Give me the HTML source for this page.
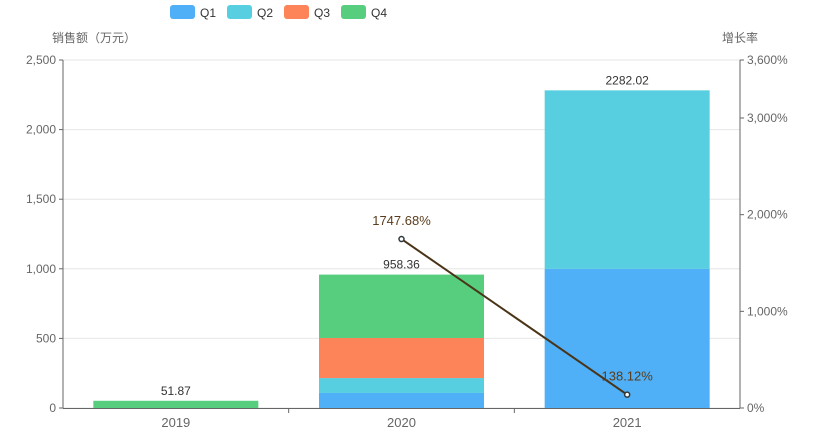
<!DOCTYPE html>
<html><head><meta charset="utf-8"><style>
body{margin:0;background:#fff;}
svg{display:block;font-family:"Liberation Sans","Noto Sans CJK SC",sans-serif;}
</style></head><body>
<svg id="c" width="820" height="438"></svg>
<script>
const categories=["2019","2020","2021"];
const seriesNames=["Q1","Q2","Q3","Q4"];
const colors=["#4fb0f7","#58cfe0","#fd8459","#56ce7e"];
const q1=[0,108,1000];
const q2=[0,107,1282.02];
const q3=[0,288,0];
const q4=[51.87,455.36,0];
const totals=["51.87","958.36","2282.02"];
const growth=[null,1747.68,138.12];
const leftTicks=[0,500,1000,1500,2000,2500];
const rightTicks=[0,1000,2000,3000,3600];
const NS="http://www.w3.org/2000/svg";
const svg=document.getElementById('c');
const X0=63,X1=740,Y0=408,Y1=60;
const cw=(X1-X0)/categories.length;
const yL=v=>Y0-(v/2500)*(Y0-Y1);
const yR=v=>Y0-(v/3600)*(Y0-Y1);
const xC=i=>X0+cw*(i+0.5);
function el(t,a,txt){const e=document.createElementNS(NS,t);for(const k in a)e.setAttribute(k,a[k]);if(txt!==undefined)e.textContent=txt;svg.appendChild(e);return e;}
// grid + left ticks
leftTicks.forEach(v=>{
 const g=el('line',{x1:X0,x2:X1,y1:yL(v),y2:yL(v),stroke:'#e6e6e6'});
 
 
 el('line',{x1:X0-4,x2:X0,y1:yL(v),y2:yL(v),stroke:'#666'});
 const t=el('text',{x:X0-7,y:yL(v)+4,'text-anchor':'end','font-size':12,fill:'#666'},v.toLocaleString('en-US'));
 
 
});
rightTicks.forEach(v=>{
 el('line',{x1:X1,x2:X1+4,y1:yR(v),y2:yR(v),stroke:'#666'});
 const t=el('text',{x:X1+7,y:yR(v)+4,'font-size':12,fill:'#666'},v.toLocaleString('en-US')+'%');
 
 
});
// bars
const series=[q1,q2,q3,q4];
const bw=165;
categories.forEach((c,i)=>{
 let acc=0;
 series.forEach((s,k)=>{
  const v=s[i]; if(!v) return;
  const r=el('rect',{x:xC(i)-bw/2,y:yL(acc+v),width:bw,height:yL(acc)-yL(acc+v),fill:colors[k]});
  
  
  acc+=v;
 });
 const t=el('text',{x:xC(i),y:yL(acc)-6,'text-anchor':'middle','font-size':12,fill:'#333'},totals[i]);
 
 
 const xl=el('text',{x:xC(i),y:Y0+19,'text-anchor':'middle','font-size':13,fill:'#666'},c);
 
 
 if(i>0) el('line',{x1:X0+cw*i,x2:X0+cw*i,y1:Y0,y2:Y0+5,stroke:'#666'});
});
// axes
el('line',{x1:X0,x2:X0,y1:Y1,y2:Y0,stroke:'#666'});
el('line',{x1:X1,x2:X1,y1:Y1,y2:Y0,stroke:'#666'});
el('line',{x1:X0,x2:X1,y1:Y0+0.5,y2:Y0+0.5,stroke:'#666'});
// line
const pts=[];growth.forEach((g,i)=>{if(g!==null)pts.push([xC(i),yR(g),g]);});
const pl=el('polyline',{points:pts.map(p=>p[0]+','+p[1]).join(' '),fill:'none',stroke:'#4a3418','stroke-width':2});


pts.forEach(p=>{
 const c=el('circle',{cx:p[0],cy:p[1],r:2.5,fill:'#fff',stroke:'#2f3a40','stroke-width':1.5});
 
 
 const t=el('text',{x:p[0],y:p[1]-14,'text-anchor':'middle','font-size':13,fill:'#5a3d1e'},p[2].toFixed(2)+'%');
 
 
});
// titles
const lt=el('text',{x:52,y:42,'font-size':12,fill:'#666'},'销售额（万元）');


const rt=el('text',{x:758,y:42,'text-anchor':'end','font-size':12,fill:'#666'},'增长率');


// legend
seriesNames.forEach((n,k)=>{
 const x=170+k*57;
 const r=el('rect',{x:x,y:5,width:25,height:14,rx:3,fill:colors[k]});
 
 
 const t=el('text',{x:x+30,y:17,'font-size':12,fill:'#333'},n);
 
 
});
</script>
</body></html>
